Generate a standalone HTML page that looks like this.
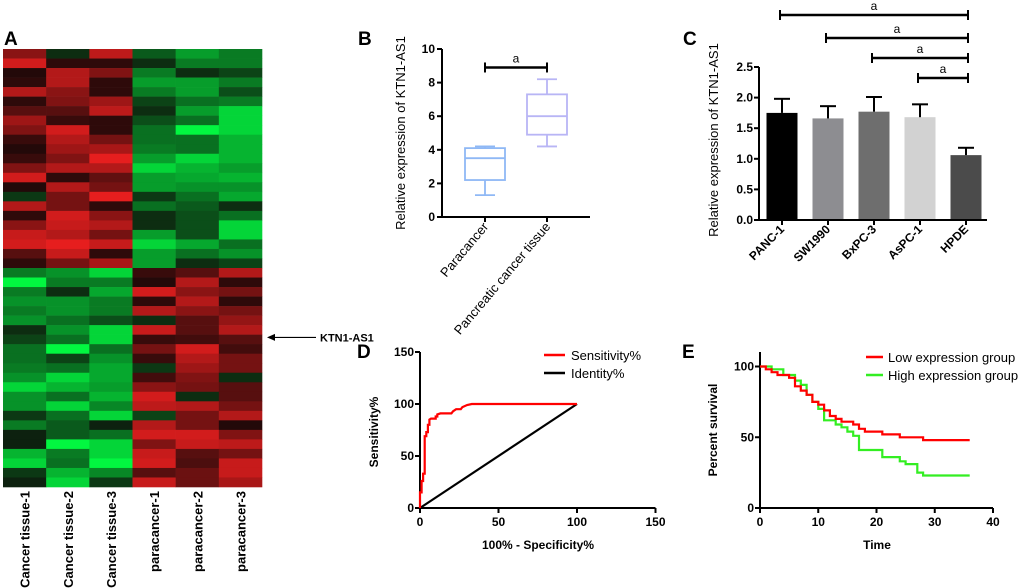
<!DOCTYPE html>
<html><head><meta charset="utf-8"><style>
html,body{margin:0;padding:0;background:#fff;}
svg{display:block;font-family:"Liberation Sans",sans-serif;}
</style></head><body>
<svg id="fig" width="1020" height="588" viewBox="0 0 1020 588" xmlns="http://www.w3.org/2000/svg">
<g font-weight="bold" font-size="19">
<text x="4" y="45">A</text>
<text x="358" y="45">B</text>
<text x="683" y="45">C</text>
<text x="357" y="358">D</text>
<text x="682" y="358">E</text>
</g>
<g id="heat"></g>
<g id="pb"></g>
<g id="pc"></g>
<g id="pd"></g>
<g id="pe"></g>
</svg>
<script>
const NS="http://www.w3.org/2000/svg";
function mk(p,tag,at,txt){const e=document.createElementNS(NS,tag);for(const k in at)e.setAttribute(k,at[k]);if(txt!==undefined)e.textContent=txt;p.appendChild(e);return e;}

// ---------- Heatmap data ----------
const heatSamples=["Cancer tissue-1","Cancer tissue-2","Cancer tissue-3","paracancer-1","paracancer-2","paracancer-3"];
const heatValues=[
[0.55,-0.1,0.8,-0.3,-0.6,-0.45],[0.9,0.1,0.1,-0.1,-0.45,-0.45],[0.05,0.75,0.5,-0.45,-0.1,-0.2],
[0.1,0.75,0.1,-0.6,-0.6,-0.45],[0.75,0.55,0.1,-0.45,-0.6,-0.25],[0.1,0.5,0.65,-0.2,-0.4,-0.45],
[0.3,0.3,0.8,-0.1,-0.6,-0.85],[0.65,0.15,0.1,-0.25,-0.4,-0.85],[0.5,0.9,0.1,-0.4,-1.0,-0.85],
[0.15,0.75,0.45,-0.4,-0.4,-0.7],[0.05,0.65,0.7,-0.45,-0.4,-0.7],[0.15,0.5,1.0,-0.6,-0.85,-0.7],
[0.5,0.75,0.75,-0.85,-0.7,-0.6],[0.9,0.1,0.35,-0.6,-0.65,-0.7],[0.05,0.75,0.45,-0.6,-0.55,-0.55],
[-0.15,0.45,1.0,-0.15,-0.4,-0.65],[0.75,0.45,0.1,-0.4,-0.3,-0.1],[0.1,0.9,0.55,-0.1,-0.25,-0.4],
[0.55,0.85,0.75,-0.1,-0.25,-0.85],[0.85,0.75,0.45,-0.6,-0.25,-0.85],[0.9,1.0,0.85,-0.85,-0.65,-0.4],
[0.3,0.85,0.1,-0.6,-0.4,-0.55],[0.1,0.45,0.7,-0.6,-0.1,-0.2],[-0.45,-0.55,-0.85,0.15,0.3,0.75],
[-1.0,-0.45,-0.45,0.05,0.75,0.1],[-0.45,-0.1,-0.65,0.9,0.55,0.45],[-0.55,-0.55,-0.45,0.1,0.75,0.1],
[-0.45,-0.55,-0.45,0.75,0.55,0.45],[-0.55,-0.4,-0.25,-0.1,0.3,0.6],[-0.1,-0.55,-0.85,0.85,0.3,0.75],
[-0.2,-0.4,-0.85,0.15,0.2,0.3],[-0.4,-1.0,-0.4,0.45,0.9,0.2],[-0.4,-0.2,-0.55,0.15,0.75,0.45],
[-0.45,-0.4,-0.65,-0.15,0.65,0.45],[-0.55,-0.85,-0.65,0.2,0.5,-0.1],[-0.85,-0.7,-0.6,0.55,0.45,0.3],
[-0.55,-0.4,-0.7,0.9,-0.1,0.3],[-0.55,-0.85,-0.5,0.8,0.75,0.45],[-0.15,-0.4,-0.85,-0.2,0.45,0.75],
[-0.45,-0.3,-0.05,0.75,0.45,0.05],[-0.05,-0.3,-0.4,0.9,0.9,0.5],[-0.05,-1.0,-0.85,0.5,0.85,0.8],
[-0.7,-0.45,-0.85,0.85,0.3,0.45],[-0.85,-0.4,-1.0,0.9,0.25,0.85],[-0.15,-0.7,-0.5,0.3,0.4,0.85],
[-0.05,-0.85,-0.15,0.85,0.4,0.7]];
const heatLabelRow=30;

// ---------- Box plot data ----------
const boxGroups=["Paracancer","Pancreatic cancer tissue"];
const boxMin=[1.3,4.2],boxQ1=[2.2,4.9],boxMed=[3.5,6.0],boxQ3=[4.1,7.3],boxMax=[4.2,8.2];
const boxTicks=[0,2,4,6,8,10];

// ---------- Bar data ----------
const barCats=["PANC-1","SW1990","BxPC-3","AsPC-1","HPDE"];
const barVals=[1.75,1.66,1.77,1.68,1.06];
const barErr=[0.23,0.20,0.24,0.21,0.12];
const barColors=["#000000","#8d8d91","#6e6e6e","#d2d2d2","#4b4b4b"];
const barTicks=["0.0","0.5","1.0","1.5","2.0","2.5"];
const barSig=[[0,4],[1,4],[2,4],[3,4]];

// ---------- ROC data ----------
const rocFpr=[0,0,1,1,2,2,3,3,4,4,5,5,6,6,7,10,10,11,11,13,20,21,23,26,27,30,33,100];
const rocTpr=[0,15,15,26,26,33,33,69,69,73,73,80,80,85,86,86,88,88,90,91,91,93,95,95,97,99,100,100];
const rocTicks=[0,50,100,150];

// ---------- Survival data ----------
const lowT=[0,1,2,3,5,6,7,8,9,10,11,12,13,14,16,17,18,21,24,28,36];
const lowS=[100,98,96,94,92,86,83,80,75,73,69,65,63,61,59,56,54,52,50,48,48];
const highT=[0,2,4,6,7,8,9,10,11,13,14,15,16,17,21,24,25,27,28,36];
const highS=[100,98,94,90,87,80,75,70,62,59,57,54,51,41,36,33,31,25,23,23];
const survXTicks=[0,10,20,30,40];
const survYTicks=[0,50,100];

// ===== Heatmap =====
(function(){
const g=document.getElementById('heat');
const x0=3,x1=262,y0=49,y1=487;
const cw=(x1-x0)/heatSamples.length, rh=(y1-y0)/heatValues.length;
function col(v){if(v>=0){return `rgb(${Math.round(25+205*v)},${Math.round(8+22*v)},${Math.round(8+22*v)})`;}
 const a=-v;return `rgb(${Math.round(14-12*a)},${Math.round(22+225*a)},${Math.round(12+52*a)})`;}
heatValues.forEach((row,i)=>{row.forEach((v,j)=>{
 const r=mk(g,'rect',{x:x0+j*cw,y:y0+i*rh,width:cw+0.3,height:rh+0.3,fill:col(v)});
 
 
});});
heatSamples.forEach((s,j)=>{
 const cx=x0+(j+0.5)*cw+5;
 const t=mk(g,'text',{x:0,y:0,transform:`translate(${cx},${y1+4}) rotate(-90)`,'text-anchor':'end','font-weight':'bold','font-size':'13'},s);
 
 
});
const ay=y0+(heatLabelRow+0.5)*rh-2;
const ar=mk(g,'line',{x1:272,y1:ay,x2:316,y2:ay,stroke:'#000','stroke-width':1.2});


mk(g,'path',{d:`M267 ${ay} L275 ${ay-3.5} L275 ${ay+3.5}Z`,fill:'#000'});
const gl=mk(g,'text',{x:320,y:ay+4,'font-weight':'bold','font-size':'11'},'KTN1-AS1');


})();

// ===== Box plot =====
(function(){
const g=document.getElementById('pb');
const ax=442,xEnd=590,yTop=49,yBot=217;
const ys=v=>yBot-(v/10)*(yBot-yTop);
const cx=[485,547],hw=20;
mk(g,'line',{x1:ax,y1:yTop,x2:ax,y2:yBot,stroke:'#000','stroke-width':2});
mk(g,'line',{x1:ax,y1:yBot,x2:xEnd,y2:yBot,stroke:'#000','stroke-width':2});
boxTicks.forEach(t=>{mk(g,'line',{x1:ax-5,y1:ys(t),x2:ax,y2:ys(t),stroke:'#000','stroke-width':2});
 const tl=mk(g,'text',{x:ax-7,y:ys(t)+4,'text-anchor':'end','font-weight':'bold','font-size':'12'},t);
 
 });
const colors=['#8fb8f5','#b8b5f5'];
boxGroups.forEach((name,i)=>{
 const c=cx[i],st=colors[i];
 mk(g,'line',{x1:c,y1:yBot,x2:c,y2:yBot+5,stroke:'#000','stroke-width':2});
 const b=mk(g,'g',{stroke:st,'stroke-width':1.8,fill:'none'});
 
 
 mk(b,'rect',{x:c-hw,y:ys(boxQ3[i]),width:2*hw,height:ys(boxQ1[i])-ys(boxQ3[i])});
 mk(b,'line',{x1:c-hw,y1:ys(boxMed[i]),x2:c+hw,y2:ys(boxMed[i])});
 mk(b,'line',{x1:c,y1:ys(boxQ3[i]),x2:c,y2:ys(boxMax[i])});
 mk(b,'line',{x1:c,y1:ys(boxQ1[i]),x2:c,y2:ys(boxMin[i])});
 mk(b,'line',{x1:c-10,y1:ys(boxMax[i]),x2:c+10,y2:ys(boxMax[i])});
 mk(b,'line',{x1:c-10,y1:ys(boxMin[i]),x2:c+10,y2:ys(boxMin[i])});
 const tl=mk(g,'text',{x:0,y:0,transform:`translate(${c+4},${yBot+10}) rotate(-50)`,'text-anchor':'end','font-size':'13'},name);
 
 
});
const by=ys(8.9);
mk(g,'line',{x1:cx[0],y1:by,x2:cx[1],y2:by,stroke:'#000','stroke-width':2.5});
mk(g,'line',{x1:cx[0],y1:by-5,x2:cx[0],y2:by+5,stroke:'#000','stroke-width':2});
mk(g,'line',{x1:cx[1],y1:by-5,x2:cx[1],y2:by+5,stroke:'#000','stroke-width':2});
const a=mk(g,'text',{x:(cx[0]+cx[1])/2,y:by-5,'text-anchor':'middle','font-size':'12'},'a');


const yt=mk(g,'text',{x:0,y:0,transform:`translate(405,133) rotate(-90)`,'text-anchor':'middle','font-size':'13'},'Relative expression of KTN1-AS1');


})();

// ===== Bar chart =====
(function(){
const g=document.getElementById('pc');
const ax=759,xEnd=987,yTop=67,yBot=220;
const ys=v=>yBot-(v/2.5)*(yBot-yTop);
const cx=i=>782+i*46,bw=31;
barCats.forEach((c,i)=>{
 const r=mk(g,'rect',{x:cx(i)-bw/2,y:ys(barVals[i]),width:bw,height:yBot-ys(barVals[i]),fill:barColors[i]});
 
 
 const top=ys(barVals[i]+barErr[i]);
 mk(g,'line',{x1:cx(i),y1:ys(barVals[i]),x2:cx(i),y2:top,stroke:'#000','stroke-width':2});
 mk(g,'line',{x1:cx(i)-8,y1:top,x2:cx(i)+8,y2:top,stroke:'#000','stroke-width':2});
 mk(g,'line',{x1:cx(i),y1:yBot,x2:cx(i),y2:yBot+5,stroke:'#000','stroke-width':2});
 const tl=mk(g,'text',{x:0,y:0,transform:`translate(${cx(i)+3},${yBot+10}) rotate(-45)`,'text-anchor':'end','font-weight':'bold','font-size':'12'},c);
 
 
});
mk(g,'line',{x1:ax,y1:yTop,x2:ax,y2:yBot,stroke:'#000','stroke-width':2});
mk(g,'line',{x1:ax,y1:yBot,x2:xEnd,y2:yBot,stroke:'#000','stroke-width':2});
barTicks.forEach(t=>{const y=ys(parseFloat(t));
 mk(g,'line',{x1:ax-5,y1:y,x2:ax,y2:y,stroke:'#000','stroke-width':2});
 const tl=mk(g,'text',{x:ax-6,y:y+4,'text-anchor':'end','font-weight':'bold','font-size':'12'},t);
 
 });
const sy=[15,38,58,78];
barSig.forEach((p,k)=>{
 const xa=cx(p[0])-2,xb=cx(p[1])+2,y=sy[k];
 mk(g,'line',{x1:xa,y1:y,x2:xb,y2:y,stroke:'#000','stroke-width':2.5});
 mk(g,'line',{x1:xa,y1:y-5,x2:xa,y2:y+5,stroke:'#000','stroke-width':2});
 mk(g,'line',{x1:xb,y1:y-5,x2:xb,y2:y+5,stroke:'#000','stroke-width':2});
 const a=mk(g,'text',{x:(xa+xb)/2,y:y-5,'text-anchor':'middle','font-size':'12'},'a');
 
 
});
const yt=mk(g,'text',{x:0,y:0,transform:`translate(718,140) rotate(-90)`,'text-anchor':'middle','font-size':'13'},'Relative expression of KTN1-AS1');


})();

// ===== ROC =====
(function(){
const g=document.getElementById('pd');
const ax=420,ay=508;
const xs=v=>ax+v*(157/100), ys=v=>ay-v*(156/150);
mk(g,'line',{x1:ax,y1:ys(150),x2:ax,y2:ay,stroke:'#000','stroke-width':2});
mk(g,'line',{x1:ax,y1:ay,x2:xs(150),y2:ay,stroke:'#000','stroke-width':2});
rocTicks.forEach(t=>{
 mk(g,'line',{x1:ax-5,y1:ys(t),x2:ax,y2:ys(t),stroke:'#000','stroke-width':2});
 mk(g,'line',{x1:xs(t),y1:ay,x2:xs(t),y2:ay+5,stroke:'#000','stroke-width':2});
 const a=mk(g,'text',{x:ax-6,y:ys(t)+4,'text-anchor':'end','font-weight':'bold','font-size':'12'},t);
 
 
 const b=mk(g,'text',{x:xs(t),y:ay+18,'text-anchor':'middle','font-weight':'bold','font-size':'12'},t);
 
 
});
const idl=mk(g,'line',{x1:xs(0),y1:ys(0),x2:xs(100),y2:ys(100),stroke:'#000','stroke-width':2.2});


let d='';rocFpr.forEach((f,i)=>{d+=(i?'L':'M')+xs(f).toFixed(1)+' '+ys(rocTpr[i]).toFixed(1);});
const rc=mk(g,'path',{d:d,fill:'none',stroke:'#f00','stroke-width':2.2});


mk(g,'line',{x1:544,y1:355,x2:565,y2:355,stroke:'#f00','stroke-width':2.5});
mk(g,'line',{x1:544,y1:373,x2:565,y2:373,stroke:'#000','stroke-width':2.5});
const l1=mk(g,'text',{x:571,y:360,'font-size':'13'},'Sensitivity%');


const l2=mk(g,'text',{x:571,y:378,'font-size':'13'},'Identity%');


const xt=mk(g,'text',{x:538,y:549,'text-anchor':'middle','font-weight':'bold','font-size':'12'},'100% - Specificity%');


const yt=mk(g,'text',{x:0,y:0,transform:'translate(378,432) rotate(-90)','text-anchor':'middle','font-weight':'bold','font-size':'12'},'Sensitivity%');


})();

// ===== Survival =====
(function(){
const g=document.getElementById('pe');
const ax=760,ay=508;
const xs=v=>ax+v*(233/40), ys=v=>ay-v*(141.5/100);
mk(g,'line',{x1:ax,y1:352,x2:ax,y2:ay,stroke:'#000','stroke-width':2});
mk(g,'line',{x1:ax,y1:ay,x2:xs(40),y2:ay,stroke:'#000','stroke-width':2});
survYTicks.forEach(t=>{
 mk(g,'line',{x1:ax-5,y1:ys(t),x2:ax,y2:ys(t),stroke:'#000','stroke-width':2});
 const a=mk(g,'text',{x:ax-6,y:ys(t)+4,'text-anchor':'end','font-weight':'bold','font-size':'12'},t);
 
 
});
survXTicks.forEach(t=>{
 mk(g,'line',{x1:xs(t),y1:ay,x2:xs(t),y2:ay+5,stroke:'#000','stroke-width':2});
 const b=mk(g,'text',{x:xs(t),y:ay+18,'text-anchor':'middle','font-weight':'bold','font-size':'12'},t);
 
 
});
function step(T,S){let d='M'+xs(T[0])+' '+ys(S[0]);for(let i=1;i<T.length;i++){d+='H'+xs(T[i]).toFixed(1)+'V'+ys(S[i]).toFixed(1);}return d;}
const hg=mk(g,'path',{d:step(highT,highS),fill:'none',stroke:'#33ee22','stroke-width':2.2});


const lw=mk(g,'path',{d:step(lowT,lowS),fill:'none',stroke:'#f00','stroke-width':2.2});


mk(g,'line',{x1:866,y1:357,x2:883,y2:357,stroke:'#f00','stroke-width':2.5});
mk(g,'line',{x1:866,y1:375,x2:883,y2:375,stroke:'#33ee22','stroke-width':2.5});
const l1=mk(g,'text',{x:888,y:362,'font-size':'13'},'Low expression group');


const l2=mk(g,'text',{x:888,y:380,'font-size':'13'},'High expression group');


const xt=mk(g,'text',{x:877,y:549,'text-anchor':'middle','font-weight':'bold','font-size':'12'},'Time');


const yt=mk(g,'text',{x:0,y:0,transform:'translate(717,430) rotate(-90)','text-anchor':'middle','font-weight':'bold','font-size':'12'},'Percent survival');


})();
</script>
</body></html>
